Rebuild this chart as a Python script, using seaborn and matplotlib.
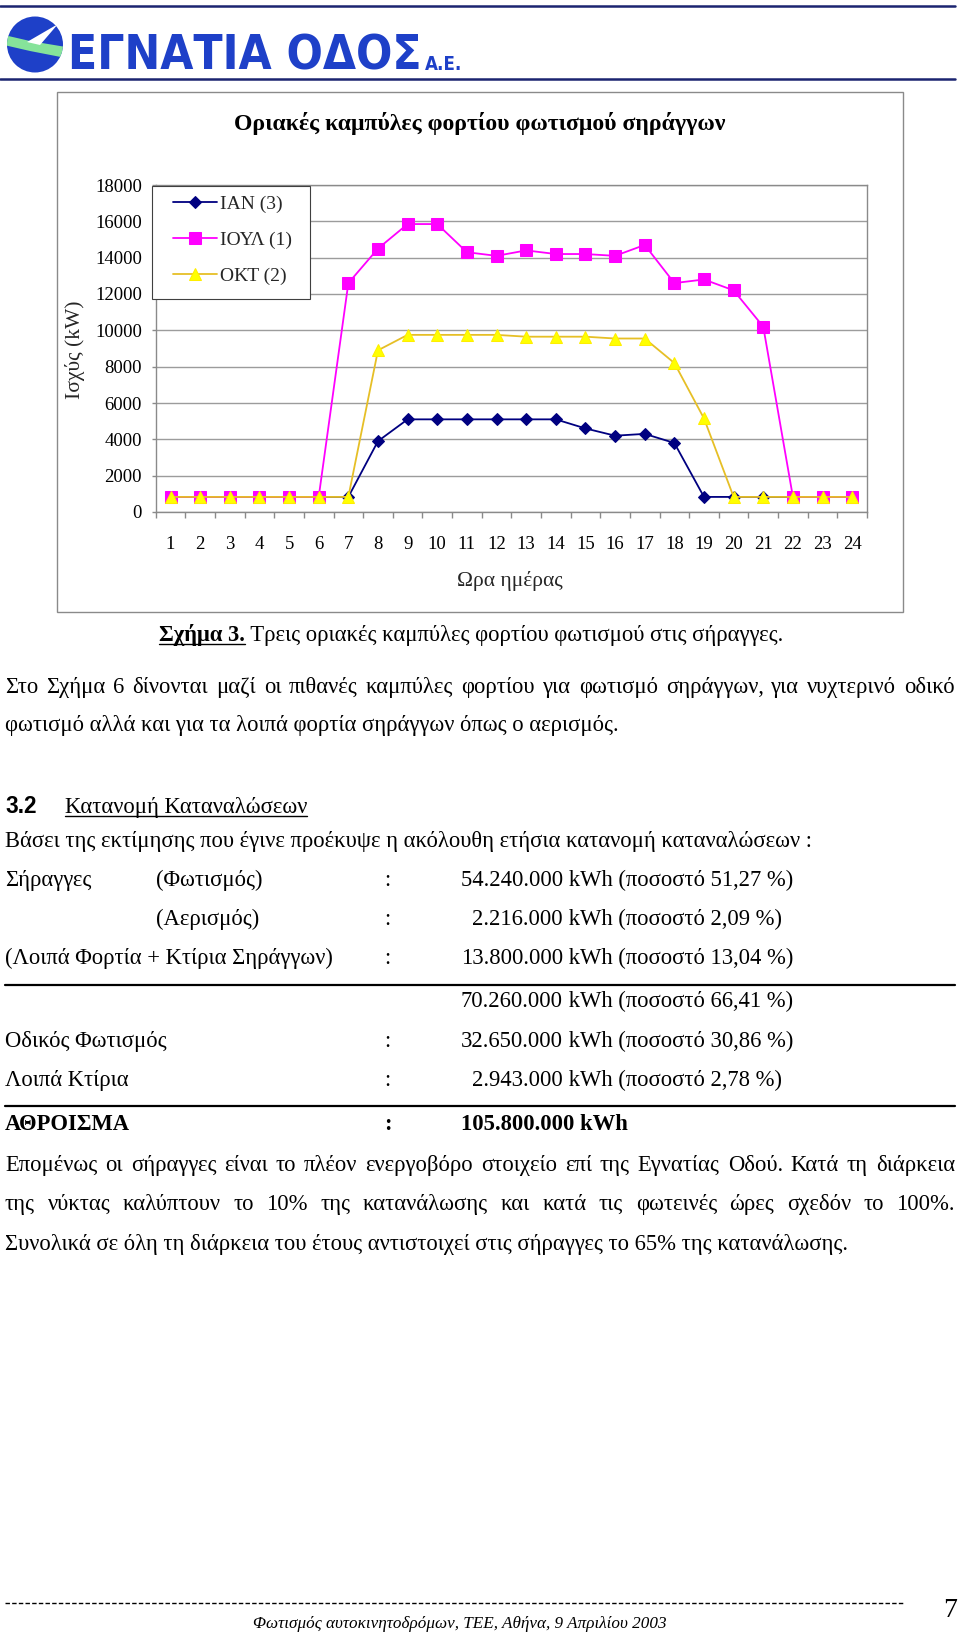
import matplotlib
matplotlib.use('Agg')
import matplotlib.pyplot as plt
import seaborn as sns
from matplotlib.patches import Rectangle, Ellipse, Polygon
from matplotlib.lines import Line2D
from matplotlib import font_manager as fm

# ---------------- data ----------------
hours = [1, 2, 3, 4, 5, 6, 7, 8, 9, 10, 11, 12, 13, 14, 15, 16, 17, 18, 19, 20, 21, 22, 23, 24]
ian_values = [830, 830, 830, 830, 830, 830, 830, 3900, 5100, 5100, 5100, 5100,
              5100, 5100, 4600, 4200, 4300, 3800, 830, 830, 830, 830, 830, 830]
ioyl_values = [830, 830, 830, 830, 830, 830, 12600, 14500, 15850, 15850, 14300, 14100,
               14400, 14200, 14200, 14100, 14700, 12600, 12800, 12200, 10200, 830, 830, 830]
okt_values = [830, 830, 830, 830, 830, 830, 830, 8900, 9750, 9750, 9750, 9750,
              9650, 9650, 9650, 9550, 9550, 8200, 5150, 830, 830, 830, 830, 830]
series_names = ['ΙΑΝ (3)', 'ΙΟΥΛ (1)', 'ΟΚΤ (2)']
y_ticks = [0, 2000, 4000, 6000, 8000, 10000, 12000, 14000, 16000, 18000]
x_tick_labels = [str(h) for h in hours]

chart_title = 'Οριακές καμπύλες φορτίου φωτισμού σηράγγων'
y_label = 'Ισχύς (kW)'
x_label = 'Ωρα ημέρας'

# ---------------- style ----------------
sns.set_style('white')
SERIF = ['Liberation Serif', 'DejaVu Serif']
SANS = ['Liberation Sans', 'DejaVu Sans']
plt.rcParams['font.family'] = SERIF

W, H = 960, 1632
fig = plt.figure(figsize=(W / 100, H / 100), dpi=100)
fig.patch.set_facecolor('white')
renderer = fig.canvas.get_renderer()


def fx(x):
    return x / W


def fy(y):
    return 1 - y / H


def put(x, y, s, size, ha='left', weight='normal', style='normal', family=SERIF,
        color='black', va='baseline', fp=None):
    if fp is not None:
        t = fig.text(fx(x), fy(y), s, ha=ha, va=va, color=color, fontproperties=fp)
        t.set_fontsize(size)
        return t
    return fig.text(fx(x), fy(y), s, fontsize=size, ha=ha, va=va, fontweight=weight,
                    fontstyle=style, family=family, color=color)


def wid(t):
    return t.get_window_extent(renderer).width


def fit(t, target):
    t.set_fontsize(t.get_fontsize() * target / wid(t))
    return t


def hline(x0, x1, y, lw=1.2, color='black', **kw):
    fig.add_artist(Line2D([fx(x0), fx(x1)], [fy(y), fy(y)], color=color, lw=lw, **kw))


def underline(t, y, lw=1.0):
    bb = t.get_window_extent(renderer)
    hline(bb.x0, bb.x1, y + 3, lw=lw)


def justify(line, y, x0, x1, size, **kw):
    words = line.split(' ')
    arts = [put(0, y, w, size, **kw) for w in words]
    ws = [wid(a) for a in arts]
    gap = (x1 - x0 - sum(ws)) / (len(words) - 1)
    x = x0
    for a, w in zip(arts, ws):
        a.set_x(fx(x))
        x += w + gap

# ---------------- logo ----------------
navy = '#1b2470'
logo_blue = '#1e40c8'
hline(0, 955, 6, lw=1.8, color=navy)
hline(0, 955, 79, lw=1.8, color=navy)
circ = Ellipse((fx(35), fy(44.5)), 56 / W, 56 / H, transform=fig.transFigure,
               facecolor=logo_blue, edgecolor='none')
fig.add_artist(circ)
green = Polygon([(fx(x), fy(y)) for x, y in [(4, 35), (30, 41), (66, 47), (66, 58), (30, 51), (4, 45)]],
                closed=True, transform=fig.transFigure, facecolor='#86e39a', edgecolor='none')
fig.add_artist(green)
green.set_clip_path(circ)
white = Polygon([(fx(x), fy(y)) for x, y in [(27, 42), (58, 24), (40, 45)]],
                closed=True, transform=fig.transFigure, facecolor='white', edgecolor='none')
fig.add_artist(white)
white.set_clip_path(circ)

# pick a condensed bold sans if one is installed
logo_fp = None
prefs = ['LiberationSansNarrow-Bold', 'NotoSans-CondensedBold', 'DejaVuSansCondensed-Bold',
         'NotoSans-SemiCondensedBold']
files = [f.fname for f in fm.fontManager.ttflist]
for p in prefs:
    hits = [f for f in files if f.split('/')[-1].startswith(p + '.')]
    if hits:
        logo_fp = fm.FontProperties(fname=hits[0])
        break
if logo_fp is None:
    logo_fp = fm.FontProperties(family=SANS, weight='bold')

lt = put(68, 70, 'ΕΓΝΑΤΙΑ ΟΔΟΣ', 40, color=logo_blue, fp=logo_fp)
fit(lt, 354)
ae = put(425, 70, 'Α.Ε.', 16, color=logo_blue, fp=logo_fp)
fit(ae, 37)

# ---------------- chart frame ----------------
fig.add_artist(Rectangle((fx(56.7), fy(612.3)), (903 - 56.7) / W, (612.3 - 91.7) / H,
                         transform=fig.transFigure, fill=False, edgecolor='#8a8a8a', lw=1.0))
tt = put(480, 130, chart_title, 17, ha='center', weight='bold')
fit(tt, 492)

AX_L, AX_R, AX_T, AX_B = 155.7, 867, 185, 512
ax = fig.add_axes([fx(AX_L), fy(AX_B), (AX_R - AX_L) / W, (AX_B - AX_T) / H])
ax.set_facecolor('white')

sns.lineplot(x=hours, y=ian_values, ax=ax, color='#000080', marker='D', markersize=6,
             markeredgecolor='#000080', markerfacecolor='#000080', linewidth=1.3,
             label=series_names[0], zorder=3)
sns.lineplot(x=hours, y=ioyl_values, ax=ax, color='#ff00ff', marker='s', markersize=8,
             markeredgecolor='#ff00ff', markerfacecolor='#ff00ff', linewidth=1.3,
             label=series_names[1], zorder=4)
sns.lineplot(x=hours, y=okt_values, ax=ax, color='#e6bf26', marker='^', markersize=8.5,
             markeredgecolor='#ffee00', markerfacecolor='#ffff00', linewidth=1.3,
             label=series_names[2], zorder=5)

ax.set_xlim(0.5, 24.5)
ax.set_ylim(0, 18000)
ax.set_yticks(y_ticks)
ax.set_yticklabels([str(v) for v in y_ticks])
ax.set_xticks(hours)
ax.set_xticklabels(x_tick_labels)
ax.set_xticks([h + 0.5 for h in [0] + hours], minor=True)
ax.yaxis.grid(True, color='#9c9c9c', lw=1.0)
ax.xaxis.grid(False)
ax.set_axisbelow(True)
for s in ax.spines.values():
    s.set_visible(True)
    s.set_color('#8a8a8a')
    s.set_linewidth(1.0)
ax.tick_params(axis='x', which='major', length=0, pad=17.5, labelsize=13.5, colors='black')
ax.tick_params(axis='x', which='minor', length=4.3, width=1, color='#8a8a8a', direction='out')
ax.tick_params(axis='y', which='major', length=3, width=1, color='#8a8a8a', direction='out',
               pad=7, labelsize=13.5, labelcolor='black')
ax.tick_params(left=True, bottom=True)
ax.tick_params(axis='x', which='minor', bottom=True)

ax.set_xlabel(x_label, fontsize=15.5)
ax.xaxis.set_label_coords((510 - AX_L) / (AX_R - AX_L), (AX_B - 581) / (AX_B - AX_T))
ax.xaxis.label.set_va('center')
ax.set_ylabel(y_label, fontsize=15.5)
ax.yaxis.set_label_coords((75 - AX_L) / (AX_R - AX_L), (AX_B - 350) / (AX_B - AX_T))
ax.yaxis.label.set_va('center')

# legend: frame drawn as a box, entries placed inside it
ax.add_patch(Rectangle((fx(151.7), fy(299)), (310 - 151.7) / W, (299 - 186) / H,
                       transform=fig.transFigure, facecolor='white', edgecolor='#404040',
                       lw=0.8, zorder=9, clip_on=False))
leg = ax.legend(loc='upper left',
                bbox_to_anchor=((172.7 - AX_L) / (AX_R - AX_L), (AX_B - 195.5) / (AX_B - AX_T)),
                frameon=False, fontsize=14, handlelength=2.27, handletextpad=0.18,
                labelspacing=0.93, borderpad=0, borderaxespad=0, numpoints=1)
leg.set_zorder(10)

# ---------------- body text ----------------
probe = put(5, 847, 'Βάσει της εκτίμησης που έγινε προέκυψε η ακόλουθη ετήσια κατανομή καταναλώσεων :', 16)
fit(probe, 809)
body = probe.get_fontsize()

cap_b = put(159, 641, 'Σχήμα 3.', body, weight='bold')
underline(cap_b, 641)
cap_r = put(159 + wid(cap_b), 641, ' Τρεις οριακές καμπύλες φορτίου φωτισμού στις σήραγγες.', body)

justify('Στο Σχήμα 6 δίνονται μαζί οι πιθανές καμπύλες φορτίου για φωτισμό σηράγγων, για νυχτερινό οδικό',
        693, 5, 955, body)
put(5, 731, 'φωτισμό αλλά και για τα λοιπά φορτία σηράγγων όπως ο αερισμός.', body)

put(5, 813, '3.2', body, weight='bold', family=SANS)
hd = put(65, 813, 'Κατανομή Καταναλώσεων', body)
underline(hd, 813)

colon_x = 384
line1 = put(0, 886, '54.240.000 kWh (ποσοστό 51,27 %)', body)
x_start = 793 - wid(line1)
line1.set_x(fx(x_start))
tmp = put(0, 0, '54.240.000', body)
num_right = x_start + wid(tmp)
tmp.remove()

rows = [
    (886, 'Σήραγγες', '(Φωτισμός)', True, None, None),
    (925, '', '(Αερισμός)', True, '2.216.000', ' kWh (ποσοστό 2,09 %)'),
    (964, '(Λοιπά Φορτία + Κτίρια Σηράγγων)', '', True, '13.800.000', ' kWh (ποσοστό 13,04 %)'),
    (1007, '', '', False, '70.260.000', ' kWh (ποσοστό 66,41 %)'),
    (1047, 'Οδικός Φωτισμός', '', True, '32.650.000', ' kWh (ποσοστό 30,86 %)'),
    (1086, 'Λοιπά Κτίρια', '', True, '2.943.000', ' kWh (ποσοστό 2,78 %)'),
]
for y, lab, sub, colon, num, rest in rows:
    if lab:
        put(5, y, lab, body)
    if sub:
        put(155.7, y, sub, body)
    if colon:
        put(colon_x, y, ':', body)
    if num:
        put(num_right, y, num, body, ha='right')
        put(num_right, y, rest, body)

hline(5, 955, 985, lw=1.6)
hline(5, 955, 1106, lw=1.6)

put(5, 1130, 'ΑΘΡΟΙΣΜΑ', body, weight='bold')
put(colon_x, 1130, ':', body, weight='bold')
put(x_start, 1130, '105.800.000 kWh', body, weight='bold')

justify('Επομένως οι σήραγγες είναι το πλέον ενεργοβόρο στοιχείο επί της Εγνατίας Οδού. Κατά τη διάρκεια',
        1171, 5, 955, body)
justify('της νύκτας καλύπτουν το 10% της κατανάλωσης και κατά τις φωτεινές ώρες σχεδόν το 100%.',
        1210, 5, 955, body)
put(5, 1250, 'Συνολικά σε όλη τη διάρκεια του έτους αντιστοιχεί στις σήραγγες το 65% της κατανάλωσης.', body)

# ---------------- footer ----------------
hline(5, 905, 1603, lw=1.0, linestyle=(0, (3.2, 1.6)))
put(950, 1617, '7', 20, ha='center')
ft = put(460, 1628, 'Φωτισμός αυτοκινητοδρόμων, ΤΕΕ, Αθήνα, 9 Απριλίου 2003', 13, ha='center', style='italic')
fit(ft, 411)

fig.savefig('out.png', dpi=100, facecolor='white')
